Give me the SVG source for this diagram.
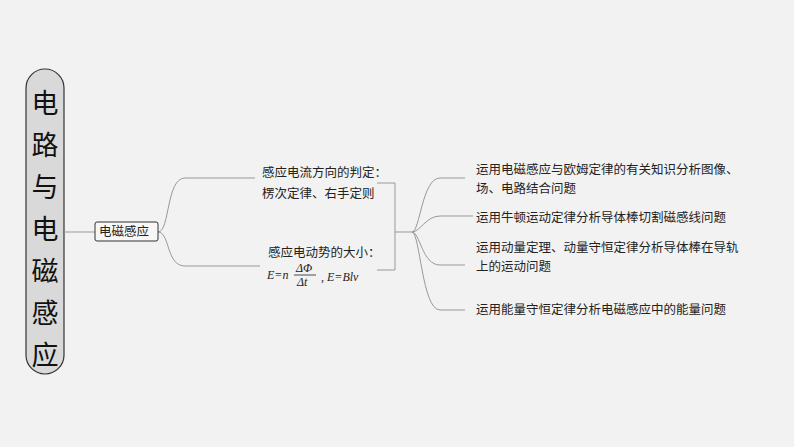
<svg xmlns="http://www.w3.org/2000/svg" width="794" height="447" viewBox="0 0 794 447">
<style>
.t{font-family:"Noto Sans CJK SC","Liberation Serif",serif;font-size:12.5px;fill:#222}
.big{font-family:"Noto Sans CJK SC",sans-serif;font-size:27px;fill:#111;text-anchor:middle}
.m{font-family:"Liberation Serif",serif;font-style:italic;font-size:12px;fill:#222}
.c{fill:none;stroke:#999;stroke-width:1}
</style>
<rect width="794" height="447" fill="#f2f2f2"/>
<g id="root">
<rect x="26" y="69" width="38" height="305" rx="19" fill="#d9d9d9" stroke="#333" stroke-width="1.2"/>
<text class="big" x="45" y="113">电</text><text class="big" x="45" y="155">路</text><text class="big" x="45" y="197">与</text><text class="big" x="45" y="239">电</text><text class="big" x="45" y="281">磁</text><text class="big" x="45" y="323">感</text><text class="big" x="45" y="365">应</text>
</g>
<g id="connectors">
<path class="c" d="M64 232H95" stroke="#333"/>
<path class="c" d="M158 232C170 232 166 178 185 178H255M158 232C170 232 166 266 185 266H260"/>
<path class="c" d="M377 183H395V270H377M395 232H412"/>
<path class="c" d="M412 232C420 232 422 178 440 178H465M412 232C420 232 426 216 440 216H473M412 232C420 232 422 265 440 265H465M412 232C420 232 422 310 440 310H465"/>
</g>
<g id="n1"><rect x="95" y="222" width="63" height="19" rx="2" fill="#f7f7f7" stroke="#333"/><text class="t" x="99" y="236">电磁感应</text></g>
<g id="n2"><text class="t" x="262" y="177">感应电流方向的判定：</text><text class="t" x="262" y="198">楞次定律、右手定则</text></g>
<g id="n3"><text class="t" x="268" y="257">感应电动势的大小：</text>
<text class="m" x="267" y="279">E=n</text><text class="m" x="296" y="272">ΔΦ</text><line x1="294" y1="275" x2="316" y2="275" stroke="#222" stroke-width="0.8"/><text class="m" x="297" y="286">Δt</text><text class="m" x="321" y="281">, E=Blv</text></g>
<g id="n4"><text class="t" x="476" y="174">运用电磁感应与欧姆定律的有关知识分析图像、</text><text class="t" x="476" y="193">场、电路结合问题</text></g>
<g id="n5"><text class="t" x="476" y="222">运用牛顿运动定律分析导体棒切割磁感线问题</text></g>
<g id="n6"><text class="t" x="476" y="252">运用动量定理、动量守恒定律分析导体棒在导轨</text><text class="t" x="476" y="271">上的运动问题</text></g>
<g id="n7"><text class="t" x="476" y="314">运用能量守恒定律分析电磁感应中的能量问题</text></g>
</svg>
